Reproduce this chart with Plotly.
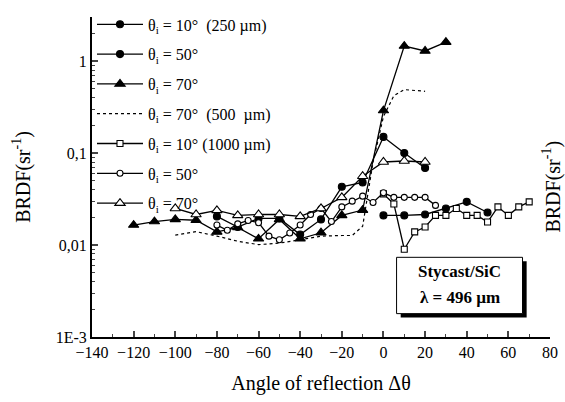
import plotly.graph_objects as go

# ---------------- data ----------------
x_10_250 = [0, 10, 20, 30, 40, 50]
y_10_250 = [0.021, 0.021, 0.0215, 0.025, 0.0295, 0.0226]

x_50_250 = [-80, -70, -60, -50, -40, -30, -20, -10, 0, 10, 20]
y_50_250 = [0.0205, 0.0157, 0.0195, 0.0195, 0.013, 0.019, 0.043, 0.048, 0.15, 0.10, 0.069]

x_70_250 = [-120, -110, -100, -90, -80, -70, -60, -50, -40, -30, -20, -10, 0, 10, 20, 30]
y_70_250 = [0.0165, 0.018, 0.019, 0.0186, 0.0139, 0.0155, 0.0117, 0.019, 0.0117, 0.0136, 0.021, 0.024, 0.29, 1.46, 1.29, 1.61]

x_70_500 = [-100, -90, -80, -70, -60, -50, -40, -30, -20, -15, -10, -5, 0, 5, 10, 20]
y_70_500 = [0.0128, 0.014, 0.0125, 0.011, 0.0101, 0.0105, 0.0114, 0.0125, 0.0127, 0.0127, 0.016, 0.08, 0.25, 0.42, 0.49, 0.47]

x_10_1000 = [0, 5, 10, 15, 20, 25, 30, 35, 40, 45, 50, 55, 60, 65, 70]
y_10_1000 = [0.036, 0.028, 0.009, 0.0139, 0.0157, 0.021, 0.021, 0.025, 0.021, 0.021, 0.0178, 0.026, 0.021, 0.026, 0.0295]

x_50_1000 = [-80, -75, -70, -65, -60, -55, -50, -45, -40, -35, -30, -25, -20, -15, -10, -5, 0, 5, 10, 15, 20, 25]
y_50_1000 = [0.0165, 0.0145, 0.017, 0.0185, 0.0175, 0.0125, 0.0114, 0.0135, 0.0165, 0.0215, 0.025, 0.018, 0.026, 0.030, 0.034, 0.029, 0.037, 0.033, 0.033, 0.033, 0.033, 0.027]

x_70_1000 = [-100, -90, -80, -70, -60, -50, -40, -30, -20, -10, 0, 10, 20]
y_70_1000 = [0.025, 0.0215, 0.0238, 0.021, 0.0215, 0.0215, 0.0205, 0.025, 0.033, 0.056, 0.080, 0.082, 0.080]

legend_names = [
    "θ<sub>i</sub> = 10°  (250 µm)",
    "θ<sub>i</sub> = 50°",
    "θ<sub>i</sub> = 70°",
    "θ<sub>i</sub> = 70°  (500  µm)",
    "θ<sub>i</sub> = 10° (1000 µm)",
    "θ<sub>i</sub> = 50°",
    "θ<sub>i</sub> = 70°",
]

x_ticks = list(range(-140, 81, 20))
y_tickvals = [1e-3, 1e-2, 1e-1, 1]
y_ticktext = ["1E-3", "0,01", "0,1", "1"]

# ---------------- figure ----------------
FONT = "Liberation Serif, Times New Roman, serif"
fig = go.Figure()

series = [
    (x_10_250, y_10_250, "solid", "circle", False, 7),
    (x_50_250, y_50_250, "solid", "circle", False, 7),
    (x_70_250, y_70_250, "solid", "triangle-up", False, 9),
    (x_70_500, y_70_500, "dot", None, False, 0),
    (x_10_1000, y_10_1000, "solid", "square", True, 6),
    (x_50_1000, y_50_1000, "solid", "circle", True, 6),
    (x_70_1000, y_70_1000, "solid", "triangle-up", True, 9),
]

for i, (xs, ys, dash, sym, open_, size) in enumerate(series):
    kw = {}
    if sym is None:
        mode = "lines"
    else:
        mode = "lines+markers"
        kw["marker"] = dict(symbol=sym, size=size,
                            color="white" if open_ else "black",
                            line=dict(color="black", width=1.1))
    fig.add_trace(go.Scatter(
        x=xs, y=ys, mode=mode, name=legend_names[i],
        legendgroup=f"g{i}",
        line=dict(color="black", width=1.3 if dash == "solid" else 1.2, dash=dash),
        **kw,
    ))

minor_y = [m * 10.0 ** d for d in range(-3, 1) for m in range(2, 10)]

fig.update_layout(
    width=565, height=402,
    margin=dict(l=92, r=7, t=8, b=65),
    paper_bgcolor="white", plot_bgcolor="white",
    font=dict(family=FONT, size=16, color="black"),
    showlegend=True,
    legend=dict(x=0.0, y=1.03, xanchor="left", yanchor="top",
                bgcolor="rgba(0,0,0,0)", borderwidth=0,
                font=dict(family=FONT, size=16),
                tracegroupgap=6, itemwidth=46, maxheight=600,
                traceorder="grouped"),
    xaxis=dict(range=[-140, 80], tickvals=x_ticks, ticks="inside", ticklen=6,
               tickwidth=1.5, showline=True, linewidth=2, linecolor="black",
               showgrid=False, zeroline=False, mirror=False,
               ticklabeloverflow="allow",
               tickfont=dict(family=FONT, size=16),
               minor=dict(dtick=10, tick0=-140, ticks="inside", ticklen=3, tickwidth=1.2),
               title=dict(text="Angle of reflection Δθ", font=dict(family=FONT, size=20), standoff=16)),
    yaxis=dict(type="log", range=[-3, 0.48], tickvals=y_tickvals, ticktext=y_ticktext,
               ticks="inside", ticklen=6, tickwidth=1.5, showline=True, linewidth=2,
               linecolor="black", showgrid=False, zeroline=False,
               tickfont=dict(family=FONT, size=16),
               minor=dict(tickvals=minor_y, ticks="inside", ticklen=3, tickwidth=1.2),
               title=dict(text="BRDF(sr<sup>-1</sup>)", font=dict(family=FONT, size=20), standoff=20)),
)

# text box with shadow (plot area: 466 x 329 px)
fig.add_shape(type="rect", xref="paper", yref="paper", x0=0.674, x1=0.949, y0=0.061, y1=0.237,
              fillcolor="black", line=dict(width=0))
fig.add_shape(type="rect", xref="paper", yref="paper", x0=0.665, x1=0.940, y0=0.073, y1=0.249,
              fillcolor="white", line=dict(color="black", width=1))
fig.add_annotation(xref="paper", yref="paper", x=0.8025, y=0.205, xanchor="center", yanchor="middle",
                   text="<b>Stycast/SiC</b>", showarrow=False, font=dict(family=FONT, size=17))
fig.add_annotation(xref="paper", yref="paper", x=0.8025, y=0.125, xanchor="center", yanchor="middle",
                   text="<b>λ = 496 µm</b>", showarrow=False, font=dict(family=FONT, size=17))
# partially visible label of the neighbouring panel
fig.add_annotation(xref="paper", yref="paper", x=1.0, xshift=2, xanchor="center", y=0.47,
                   yanchor="middle", text="BRDF(sr<sup>-1</sup>)", textangle=-90, showarrow=False,
                   font=dict(family=FONT, size=20))

# remove the default 8px page margin so the figure fills the window exactly
fig.write_html("out.html",
               config={"displayModeBar": False},
               post_script="document.body.style.margin='0px';"
                           "document.documentElement.style.overflow='hidden';")
